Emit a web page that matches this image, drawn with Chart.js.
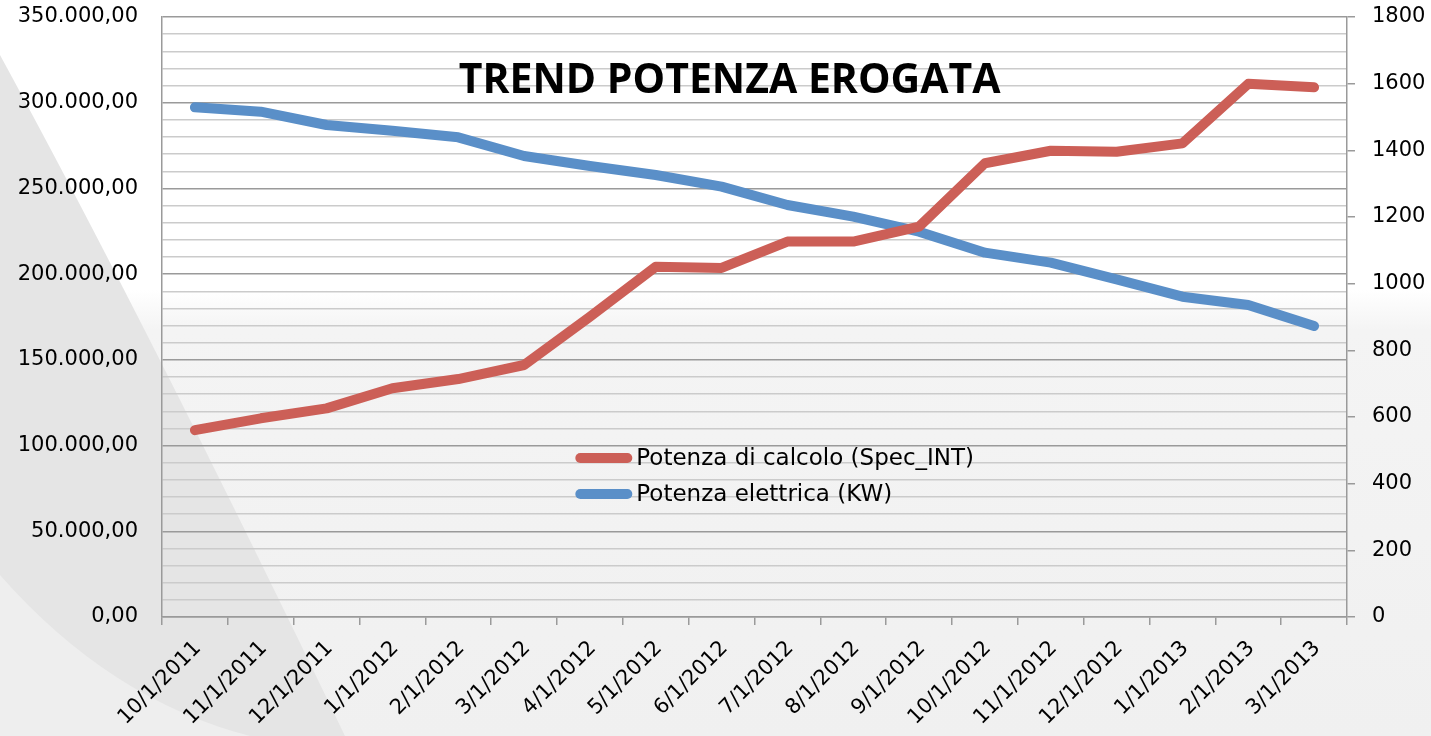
<!DOCTYPE html>
<html>
<head>
<meta charset="utf-8">
<script src="https://cdn.jsdelivr.net/npm/chart.js@4.4.0/dist/chart.umd.min.js"></script>
<style>
  html, body { margin: 0; padding: 0; }
  body {
    width: 1431px; height: 736px; overflow: hidden; position: relative;
    background: linear-gradient(to bottom, #ffffff 0px, #ffffff 290px, #f4f4f4 330px, #f0f0f0 736px);
  }
  #bg { position: absolute; left: 0; top: 0; }
  #wrap { position: absolute; left: 0; top: 0; width: 1431px; height: 736px; }
</style>
</head>
<body>
<svg id="bg" width="1431" height="736">
  <path d="M0,55 Q150,330 345,736 L0,736 Z" fill="#e5e5e5"/>
  <path d="M0,575 Q110,700 250,736 L0,736 Z" fill="#eeeeee"/>
</svg>
<div id="wrap"><canvas id="trendChart" width="1431" height="736"></canvas></div>
<script>
// dati
const mesi = ['10/1/2011', '11/1/2011', '12/1/2011', '1/1/2012', '2/1/2012', '3/1/2012',
  '4/1/2012', '5/1/2012', '6/1/2012', '7/1/2012', '8/1/2012', '9/1/2012',
  '10/1/2012', '11/1/2012', '12/1/2012', '1/1/2013', '2/1/2013', '3/1/2013'];
const potenzaCalcolo = [109000, 115900, 121700, 133400, 138800, 147000, 175200, 204300, 203600,
  219000, 219000, 227700, 264700, 272000, 271400, 276300, 311000, 309000];
const potenzaElettrica = [1529, 1516, 1476, 1459, 1439, 1383, 1353, 1326, 1291, 1236,
  1201, 1156, 1093, 1063, 1013, 961, 936, 873];
const titolo = 'TREND POTENZA EROGATA';
const etichette = ['Potenza di calcolo (Spec_INT)', 'Potenza elettrica (KW)'];

const rosso = '#cc5f57';
const blu = '#5a8fc8';
const font = 'DejaVu Sans';

// formato numeri italiano: 350.000,00
function formatIt(v) {
  const intero = Math.round(v).toString().replace(/\B(?=(\d{3})+(?!\d))/g, '.');
  return intero + ',00';
}

// le etichette degli assi verticali non devono spostare l'area del grafico
function fissaAsseY(scale) {
  scale.width = scale.position === 'left' ? 162 : 84;
  scale.paddingTop = 17;
  scale.paddingBottom = 0;
}

// titolo e legenda disegnati dentro l'area del grafico
const decorazioni = {
  id: 'decorazioni',
  afterDatasetsDraw(chart) {
    const { ctx, chartArea } = chart;
    const w = chartArea.right - chartArea.left;
    ctx.save();
    ctx.fillStyle = '#000';
    ctx.font = 'bold 41px "Open Sans"';
    ctx.textAlign = 'center';
    ctx.textBaseline = 'alphabetic';
    ctx.fillText(titolo, chartArea.left + w * 0.479, 93);

    const x0 = chartArea.left + w * 0.353;
    const rows = [458, 494];
    chart.data.datasets.forEach((ds, i) => {
      ctx.strokeStyle = ds.borderColor;
      ctx.lineWidth = 10;
      ctx.lineCap = 'round';
      ctx.beginPath();
      ctx.moveTo(x0, rows[i]);
      ctx.lineTo(x0 + 47, rows[i]);
      ctx.stroke();
      ctx.fillStyle = '#000';
      ctx.font = '23px "' + font + '"';
      ctx.textAlign = 'left';
      ctx.textBaseline = 'middle';
      ctx.fillText(ds.label, x0 + 56, rows[i] + 1);
    });
    ctx.restore();
  }
};

const ctx = document.getElementById('trendChart').getContext('2d');
new Chart(ctx, {
  type: 'line',
  data: {
    labels: mesi,
    datasets: [{
      label: etichette[0],
      data: potenzaCalcolo,
      yAxisID: 'y',
      borderColor: rosso,
      backgroundColor: rosso,
      borderWidth: 10,
      borderCapStyle: 'round',
      borderJoinStyle: 'round',
      pointRadius: 0,
      tension: 0
    }, {
      label: etichette[1],
      data: potenzaElettrica,
      yAxisID: 'y1',
      borderColor: blu,
      backgroundColor: blu,
      borderWidth: 10,
      borderCapStyle: 'round',
      borderJoinStyle: 'round',
      pointRadius: 0,
      tension: 0
    }]
  },
  options: {
    responsive: false,
    animation: false,
    layout: { padding: 0 },
    plugins: {
      legend: { display: false },
      title: { display: false },
      tooltip: { enabled: false }
    },
    scales: {
      x: {
        type: 'category',
        offset: true,
        grid: { offset: true, drawOnChartArea: false, drawTicks: true, tickLength: 8, color: '#9a9a9a', lineWidth: 1.5 },
        border: { color: '#9a9a9a', width: 1.5 },
        ticks: {
          minRotation: 45, maxRotation: 45, autoSkip: false, color: '#000',
          font: { family: font, size: 21 }, padding: 11, labelOffset: 3
        },
        afterFit(scale) { scale.height = 119; }
      },
      y: {
        position: 'left',
        min: 0,
        max: 350000,
        grid: {
          drawTicks: false,
          lineWidth: 1.5,
          color: c => (c.tick && c.tick.value % 50000 === 0) ? '#9a9a9a' : '#cbcbcb'
        },
        border: { color: '#9a9a9a', width: 1.5 },
        ticks: {
          stepSize: 10000,
          autoSkip: false,
          color: '#000',
          padding: 24,
          font: { family: font, size: 21 },
          callback: v => (v % 50000 === 0) ? formatIt(v) : ''
        },
        afterFit: fissaAsseY
      },
      y1: {
        position: 'right',
        min: 0,
        max: 1800,
        grid: { drawOnChartArea: false, drawTicks: true, tickLength: 8, color: '#9a9a9a', lineWidth: 1.5 },
        border: { color: '#9a9a9a', width: 1.5 },
        ticks: {
          stepSize: 200, color: '#000', padding: 17,
          font: { family: font, size: 21 },
          callback: v => String(v)
        },
        afterFit: fissaAsseY
      }
    }
  },
  plugins: [decorazioni]
});
</script>
</body>
</html>
